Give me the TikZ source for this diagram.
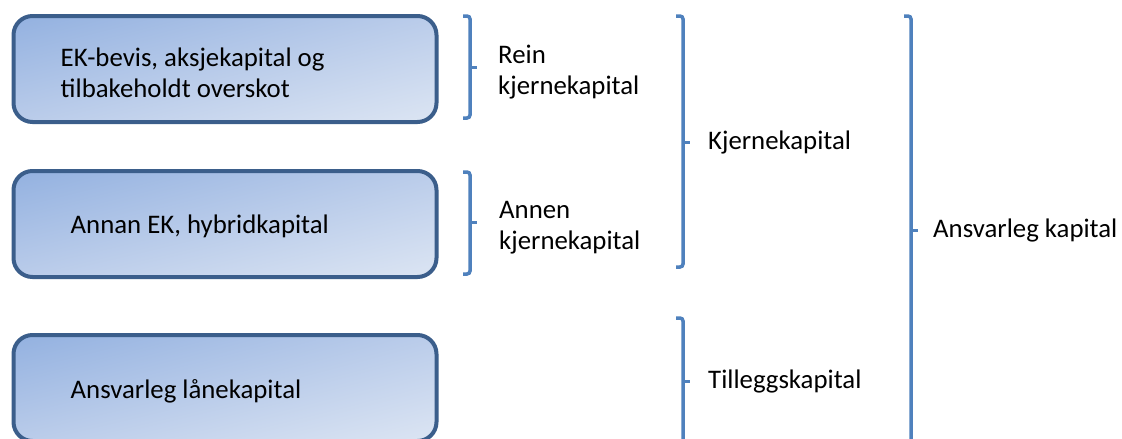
\documentclass[tikz,border=0pt]{standalone}
\usepackage{fontspec}
\setmainfont{Carlito}
\usepackage{tikz}
\usetikzlibrary{positioning,shadings}
\frenchspacing

\definecolor{boxline}{HTML}{3B5E8B}
\definecolor{boxdark}{HTML}{93B1E0}
\definecolor{boxmid}{HTML}{BACCEA}
\definecolor{boxlight}{HTML}{DCE5F3}
\definecolor{bracketblue}{HTML}{4F81BD}

\tikzset{
kapbox/.style={draw=boxline, line width=4pt, rounded corners=19pt,
  upper left=boxdark, upper right=boxmid, lower left=boxmid, lower right=boxlight,
  minimum width=423pt, minimum height=106pt},
boxtxt/.style={inner sep=0pt, align=left, anchor=west},
bracket/.style={draw=bracketblue, line width=3.5pt, rounded corners=3pt},
lbl/.style={inner sep=0pt, align=left, anchor=west}
}

\begin{document}
\begin{tikzpicture}[x=1pt, y=-1pt, font=\fontsize{26.8}{31}\selectfont]
\useasboundingbox (0,0) rectangle (1122,439);

\node[kapbox] (ekbevis) at (225,69) {};
\node[kapbox] (annanek) at (225,224) {};
\node[kapbox] (laan) at (225,388) {};

\node[boxtxt, right=49pt of ekbevis.west, yshift=-4pt] (ekbevistxt) {EK-bevis, aksjekapital og\\tilbakeholdt overskot};
\node[boxtxt, right=59pt of annanek.west, yshift=-2pt] (annanektxt) {Annan EK, hybridkapital};
\node[boxtxt, right=59pt of laan.west, yshift=-3pt] (laantxt) {Ansvarleg lånekapital};

\foreach \n/\x/\a/\b/\m in {rein/470/16/118/67, annen/470/172/274/222,
  kjerne/683/16/267/142, tillegg/683/318/460/381, ansvar/911/16/460/230}
{
\draw[bracket] (\x-7,\a) -- (\x,\a) -- (\x,\b) -- (\x-7,\b);
\draw[draw=bracketblue, line width=3pt] (\x,\m) -- (\x+7,\m);
\coordinate (t\n) at (\x+8,\m);
}

\node[lbl, right=20pt of trein, yshift=-5pt] (reinlbl) {Rein\\kjernekapital};
\node[lbl, right=21pt of tannen, yshift=-6pt] (annenlbl) {Annen\\kjernekapital};
\node[lbl, right=17pt of tkjerne] (kjernelbl) {Kjernekapital};
\node[lbl, right=17pt of ttillegg] (tilleggslbl) {Tilleggskapital};
\node[lbl, right=14pt of tansvar] (ansvarlbl) {Ansvarleg kapital};
\end{tikzpicture}
\end{document}
